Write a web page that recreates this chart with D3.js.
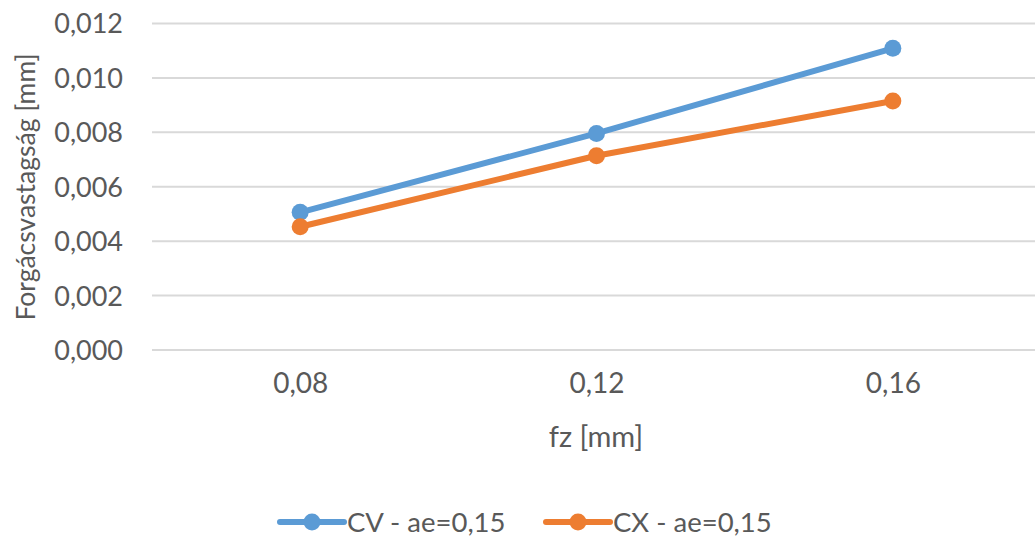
<!DOCTYPE html>
<html>
<head>
<meta charset="utf-8">
<script src="https://cdn.jsdelivr.net/npm/d3@7/dist/d3.min.js"></script>
<style>
  html, body { margin: 0; padding: 0; background: #fff; }
  svg { display: block; }
  text { font-family: Lato, "Open Sans", sans-serif; fill: #595959; }
</style>
</head>
<body>
<script>
// Feed per tooth (fz) categories and chip thickness series
const categories = ["0,08", "0,12", "0,16"];
const cvValues = [0.00506, 0.00796, 0.01109];
const cxValues = [0.00453, 0.00714, 0.00915];
const seriesNames = ["CV - ae=0,15", "CX - ae=0,15"];
const seriesColors = ["#5B9BD5", "#ED7D31"];
const yTicks = [0, 0.002, 0.004, 0.006, 0.008, 0.010, 0.012];

const W = 1035, H = 543;
const svg = d3.select("body").append("svg").attr("width", W).attr("height", H);

const x = d3.scalePoint().domain(categories).range([152, 1041]).padding(0.5);
const y = d3.scaleLinear().domain([0, 0.012]).range([350, 23.5]);

const fmt = d => d3.format(".3f")(d).replace(".", ",");

// Horizontal gridlines
svg.append("g")
  .selectAll("line")
  .data(yTicks)
  .join("line")
  .attr("x1", 152).attr("x2", W)
  .attr("y1", d => y(d)).attr("y2", d => y(d))
  .attr("stroke", "#D9D9D9").attr("stroke-width", 2);

// Y axis labels
const yAxis = d3.axisLeft(y).tickValues(yTicks).tickFormat(fmt).tickSize(0).tickPadding(0);
const gy = svg.append("g").attr("transform", "translate(123,0)").call(yAxis);
gy.select(".domain").remove();
gy.selectAll("text").style("font-size", "27px").attr("fill", "#595959").attr("dy", "0.35em")
  .style("font-family", "Lato, 'Open Sans', sans-serif");

// X axis labels
const xAxis = d3.axisBottom(x).tickSize(0).tickPadding(0);
const gx = svg.append("g").attr("transform", "translate(0,373)").call(xAxis);
gx.select(".domain").remove();
gx.selectAll("text").style("font-size", "28px").attr("fill", "#595959").attr("dy", "0.71em")
  .style("font-family", "Lato, 'Open Sans', sans-serif");

// Axis titles
svg.append("text")
  .attr("x", 596).attr("y", 447)
  .attr("text-anchor", "middle")
  .style("font-size", "29px")
  .text("fz [mm]");

svg.append("text")
  .attr("transform", "translate(35,187) rotate(-90)")
  .attr("text-anchor", "middle")
  .style("font-size", "26.5px")
  .text("Forgácsvastagság [mm]");

// Series lines and markers
const series = [cvValues, cxValues];
const line = d3.line().x((d, i) => x(categories[i])).y(d => y(d));

series.forEach((vals, s) => {
  svg.append("path")
    .datum(vals)
    .attr("d", line)
    .attr("fill", "none")
    .attr("stroke", seriesColors[s])
    .attr("stroke-width", 6)
    .attr("stroke-linejoin", "round")
    .attr("stroke-linecap", "round");
  svg.append("g")
    .selectAll("circle")
    .data(vals)
    .join("circle")
    .attr("cx", (d, i) => x(categories[i]))
    .attr("cy", d => y(d))
    .attr("r", 8.5)
    .attr("fill", seriesColors[s]);
});

// Legend
const legendItems = [
  { x0: 280, name: seriesNames[0], color: seriesColors[0] },
  { x0: 546, name: seriesNames[1], color: seriesColors[1] }
];
const ly = 522;
legendItems.forEach(it => {
  const g = svg.append("g");
  g.append("line")
    .attr("x1", it.x0).attr("x2", it.x0 + 64)
    .attr("y1", ly).attr("y2", ly)
    .attr("stroke", it.color).attr("stroke-width", 6).attr("stroke-linecap", "round");
  g.append("circle").attr("cx", it.x0 + 32).attr("cy", ly).attr("r", 8.5).attr("fill", it.color);
  g.append("text")
    .attr("x", it.x0 + 67).attr("y", ly).attr("dy", "0.35em")
    .style("font-size", "27.5px")
    .text(it.name);
});
</script>
</body>
</html>
